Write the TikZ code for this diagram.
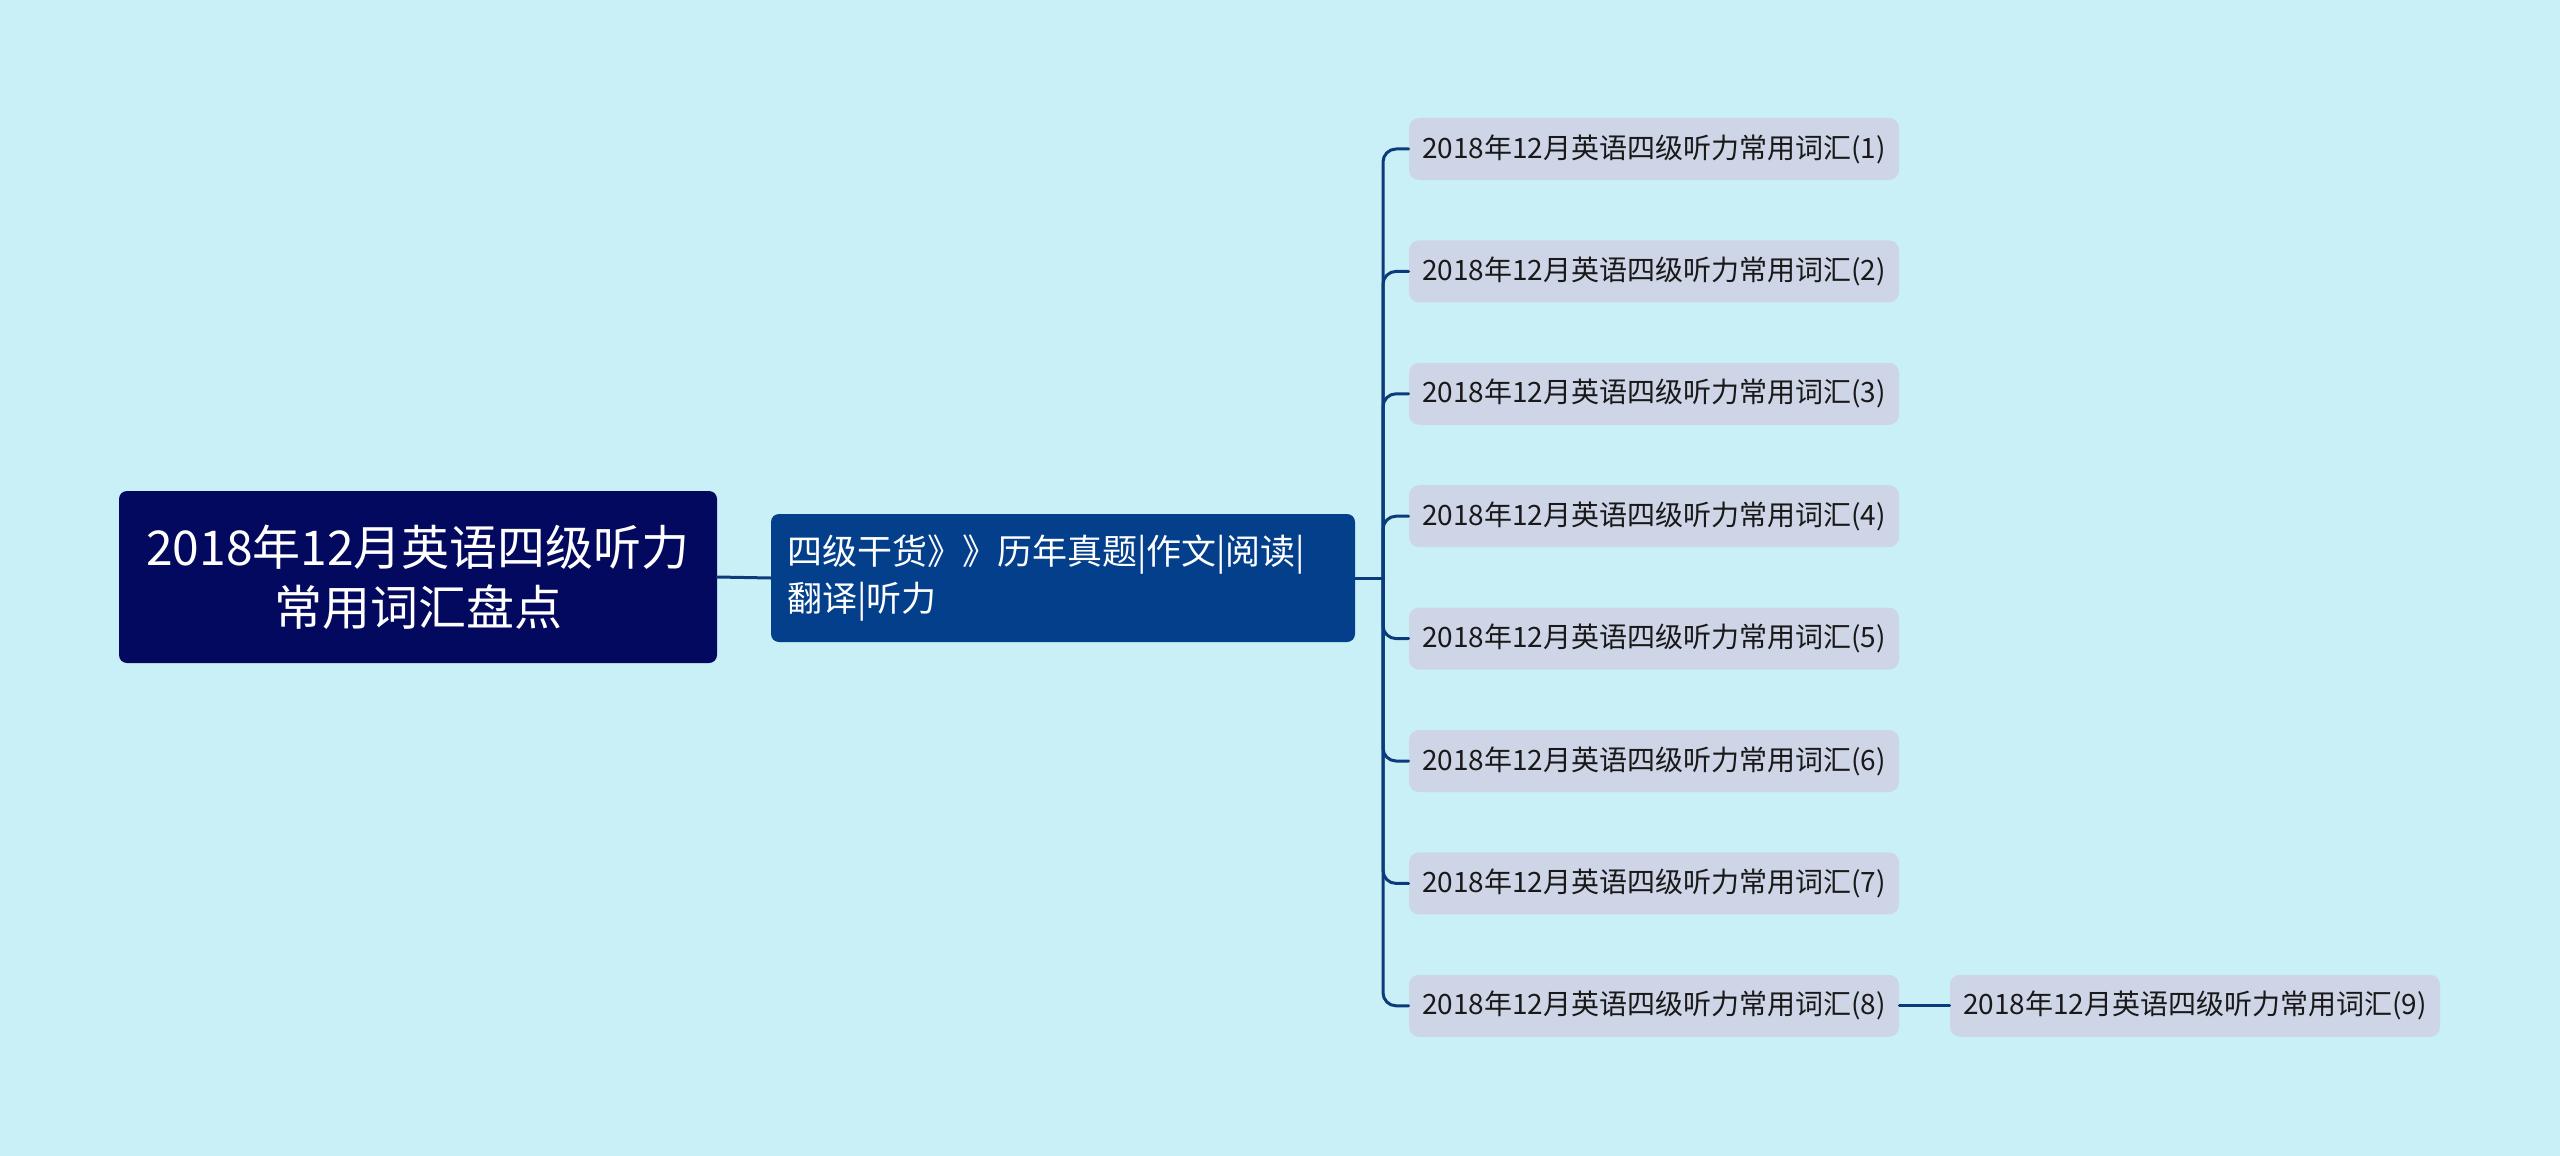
\documentclass[tikz,border=0pt]{standalone}
\usepackage{fontspec}
\setmainfont{Noto Sans CJK SC}
\definecolor{bgcyan}{HTML}{C9F0F7}
\definecolor{rootnavy}{HTML}{03095E}
\definecolor{topicblue}{HTML}{033F8A}
\definecolor{leafgrey}{HTML}{CDD5E6}
\definecolor{linkblue}{HTML}{0C3B7B}
\tikzset{
	rootbox/.style={fill=rootnavy, text=white, rounded corners=4pt, minimum width=299pt, minimum height=86pt, align=center, font=\fontsize{24pt}{30pt}\selectfont},
	topicbox/.style={fill=topicblue, text=white, rounded corners=4pt, minimum height=64pt, inner xsep=8pt, text width=276pt, align=left, font=\fontsize{17.5pt}{23.5pt}\selectfont},
	leafbox/.style={fill=leafgrey, text=black!90, rounded corners=5pt, minimum width=245pt, minimum height=31pt, inner xsep=6pt, font=\fontsize{14pt}{16pt}\selectfont},
	link/.style={draw=linkblue, line width=1.5pt}
}
\begin{document}
\begin{tikzpicture}[x=0.5pt, y=-0.5pt, line join=round, line cap=round]
	\def \trunkx{1383};
	\def \leaftop{149};
	\def \leafgap{122.4};
	\fill[bgcyan] (0,0) rectangle (2560,1156);
	\useasboundingbox (0,0) rectangle (2560,1156);
	% main nodes
	\node[rootbox] (root) at (418,577) {2018年12月英语四级听力\\常用词汇盘点};
	\node[topicbox] (topic) at (1063,578) {四级干货》》历年真题|作文|阅读|\\翻译|听力};
	\coordinate (trunk) at (\trunkx,578);
	\draw[link] (root.east) -- (topic.west);
	\draw[link] (topic.east) -- (trunk);
	% leaves
	\foreach \i in {1,...,8}{
		\node[leafbox] (leaf\i) at (1654,{\leaftop+\leafgap*(\i-1)}) {2018年12月英语四级听力常用词汇(\i)};
		\draw[link, rounded corners=6.5pt] (trunk) |- (leaf\i.west);
	}
	\node[leafbox] (leaf9) at (2195,{\leaftop+\leafgap*7}) {2018年12月英语四级听力常用词汇(9)};
	\draw[link] (leaf8.east) -- (leaf9.west);
\end{tikzpicture}
\end{document}
